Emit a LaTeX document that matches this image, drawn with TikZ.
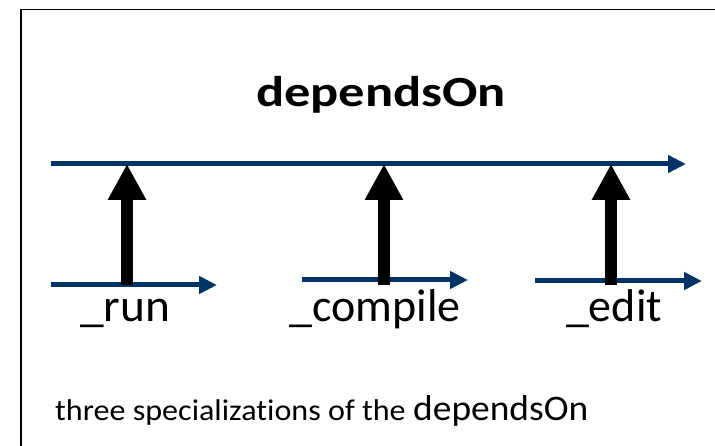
\documentclass[tikz,border=0pt]{standalone}
\usepackage{fontspec}
\setmainfont{Carlito}[Ligatures=NoCommon]
\usetikzlibrary{arrows.meta}
\definecolor{relblue}{HTML}{003366}
\begin{document}
\begin{tikzpicture}[x=1pt,y=-1pt,
  relline/.style={draw=relblue, line width=5pt, -{Triangle[length=18pt,width=17pt]}},
  specarrow/.style={draw=black, line width=12pt, -{Triangle[length=36pt,width=36pt]}},
  titletext/.style={inner sep=0pt, anchor=base, font=\fontsize{43}{50}\selectfont\bfseries},
  labeltext/.style={inner sep=0pt, anchor=base, font=\fontsize{46}{54}\selectfont},
  notetext/.style={inner sep=0pt, anchor=base west}]
\useasboundingbox (0,0) rectangle (715,446);
% frame of the slide
\draw[line width=1.6pt] (21,9.5) rectangle (730,460);

% the general relation and its three specializations
\coordinate (topL) at (51,164);
\coordinate (topR) at (686,164);
\coordinate (runL) at (51,285);
\coordinate (runR) at (217,285);
\coordinate (cmpL) at (302,280);
\coordinate (cmpR) at (468,280);
\coordinate (edtL) at (535,281);
\coordinate (edtR) at (702,281);
\draw[relline] (topL) -- (topR);
\draw[relline] (runL) -- (runR);
\draw[relline] (cmpL) -- (cmpR);
\draw[relline] (edtL) -- (edtR);

% specialization arrows
\coordinate (runB) at (127,285);
\coordinate (runT) at (127,164);
\coordinate (cmpB) at (384,285);
\coordinate (cmpT) at (384,164);
\coordinate (edtB) at (611,285);
\coordinate (edtT) at (611,164);
\draw[specarrow] (runB) -- (runT);
\draw[specarrow] (cmpB) -- (cmpT);
\draw[specarrow] (edtB) -- (edtT);

% texts
\node[titletext] (title) at (381,107) {\scalebox{1.22}[1]{dependsOn}};
\node[labeltext] (run) at (125,322) {\scalebox{1.03}[1]{\_run}};
\node[labeltext] (compile) at (375,322) {\_compile};
\node[labeltext] (edit) at (614,322) {\_edit};
\node[notetext, font=\fontsize{30}{36}\selectfont] (note) at (55,420)
  {\scalebox{1.07}[1]{three specializations of the}};
\node[notetext, font=\fontsize{36}{42}\selectfont] (noteterm) at (413,420)
  {\scalebox{1.04}[1]{dependsOn}};
\end{tikzpicture}
\end{document}
